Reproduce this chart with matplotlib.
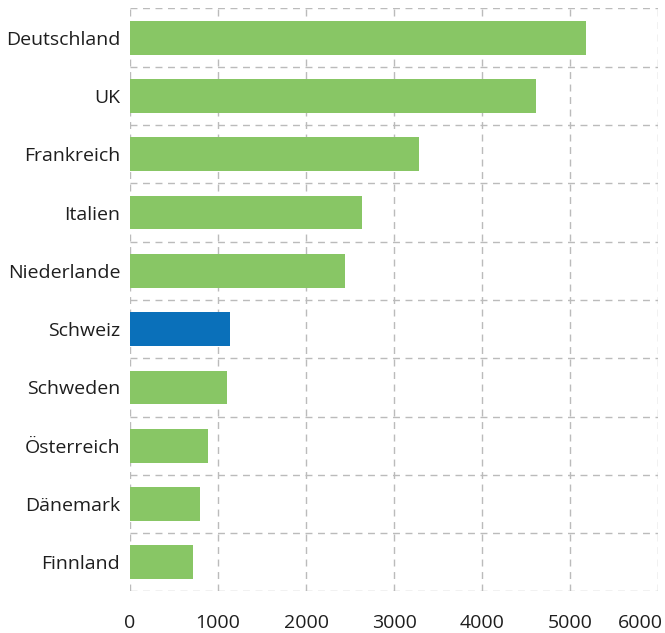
import matplotlib
matplotlib.use("Agg")
from matplotlib import pyplot as plt
from matplotlib.transforms import ScaledTranslation

countries = ["Deutschland", "UK", "Frankreich", "Italien", "Niederlande",
             "Schweiz", "Schweden", "Österreich", "Dänemark", "Finnland"]
values = [5180, 4608, 3285, 2636, 2445, 1141, 1100, 886, 795, 716]
highlight = "Schweiz"
x_ticks = [0, 1000, 2000, 3000, 4000, 5000, 6000]

green = "#88C665"
blue = "#0A70BA"
grid_color = "#BBBBBB"

plt.rcParams["font.family"] = ["Open Sans", "DejaVu Sans"]

fig = plt.figure(figsize=(6.65, 6.33), dpi=100)
ax = fig.add_axes([0.1955, 0.0656, 0.794, 0.921])

ypos = list(range(len(countries)))
colors = [blue if c == highlight else green for c in countries]
ax.barh(ypos, values, height=0.58, color=colors, zorder=3)

ax.set_xlim(0, 6000)
ax.set_ylim(len(countries) - 0.5, -0.5)
ax.set_xticks(x_ticks)
ax.set_yticks(ypos)
ax.set_yticklabels(countries)
ax.set_yticks([i - 0.5 for i in range(len(countries) + 1)], minor=True)

# dashed grid: vertical at each 1000, horizontal between categories
ax.grid(axis="x", which="major", color=grid_color, linestyle=(0, (5, 4)), linewidth=1, zorder=0)
ax.grid(axis="y", which="minor", color=grid_color, linestyle=(0, (5, 4)), linewidth=1, zorder=0)
ax.grid(axis="y", which="major", visible=False)
for s in ax.spines.values():
    s.set_visible(False)

ax.tick_params(axis="both", which="both", length=0, labelsize=14, colors="#1E1E1E")
ax.tick_params(axis="x", pad=16)
ax.tick_params(axis="y", pad=7)

# keep the last x label inside the figure
last = ax.get_xticklabels()[-1]
last.set_horizontalalignment("right")
last.set_transform(last.get_transform() + ScaledTranslation(5 / 100, 0, fig.dpi_scale_trans))

fig.savefig("out.png", dpi=100)
